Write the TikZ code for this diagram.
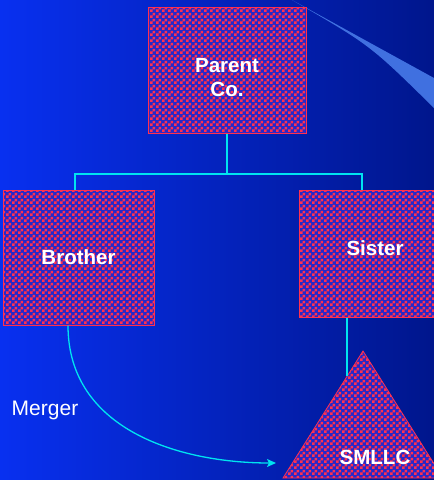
\documentclass[tikz,border=0pt]{standalone}
\usepackage{fontspec}
\setmainfont{Liberation Sans}
\usetikzlibrary{patterns,arrows.meta}

\definecolor{bgleft}{RGB}{8,48,240}
\definecolor{bgright}{RGB}{0,22,140}
\definecolor{checkred}{RGB}{255,48,80}
\definecolor{checkblue}{RGB}{40,40,200}
\definecolor{linkcyan}{RGB}{0,228,240}
\definecolor{wedgeblue}{RGB}{64,112,224}

\pgfdeclarepatternformonly{checks}{\pgfpointorigin}{\pgfqpoint{6pt}{6pt}}{\pgfqpoint{6pt}{6pt}}{%
  \pgfpathrectangle{\pgfpointorigin}{\pgfqpoint{3pt}{3pt}}%
  \pgfpathrectangle{\pgfqpoint{3pt}{3pt}}{\pgfqpoint{3pt}{3pt}}%
  \pgfusepath{fill}}

\tikzstyle{company}=[rectangle,draw=checkred,line width=1pt,fill=checkblue,
  postaction={pattern=checks,pattern color=checkred},
  text=white,font=\fontsize{20.5}{24}\selectfont\bfseries,align=center]
\tikzstyle{link}=[draw=linkcyan,line width=1.6pt]

\begin{document}
\begin{tikzpicture}[x=1pt,y=-1pt]
	\useasboundingbox (0,0) rectangle (434,480);
	\shade [left color=bgleft,right color=bgright] (0,0) rectangle (434,480);
	\fill [wedgeblue] (292,0) -- (434,78) -- (434,108) .. controls (370,45) .. (292,0);

	\node (parent) at (227,70) [company,minimum width=158pt,minimum height=126pt] {\rule{0pt}{1pt}\\[4pt]Parent\\Co.};
	\node (brother) at (78.5,257.5) [company,minimum width=151pt,minimum height=135pt] {Brother};
	\node (sister) at (375,253.5) [company,minimum width=152pt,minimum height=127pt,text depth=10pt] {Sister};

		\coordinate (apex) at (363,351);
		\coordinate (baseL) at (283,478);
		\coordinate (baseR) at (443,478);
	\filldraw [draw=checkred,line width=0.8pt,fill=checkblue,
		postaction={pattern=checks,pattern color=checkred}] (apex) -- (baseR) -- (baseL) -- cycle;
	\node (smllc) at (375,457) [text=white,font=\fontsize{20.5}{24}\selectfont\bfseries] {SMLLC};

	\node (merger) at (45,410) [text=white,font=\fontsize{21}{24}\selectfont] {Merger};

	\coordinate (bar) at (0,174);
	\draw [link] (parent.south) -- (parent.south |- bar);
	\draw [link] (brother.north -| 75,0) -- (75,174) -- (362,174) -- (sister.north -| 362,0);
	\coordinate (join) at (347,376);
	\draw [link] (sister.south -| join) -- (join);

	\coordinate (mergeEnd) at (276,463);
	\draw [draw=linkcyan,line width=1.3pt,-{Stealth[length=9pt,width=8pt,inset=2pt]}]
		(brother.south -| 68,0) .. controls (68,430) and (180,463) .. (mergeEnd);
\end{tikzpicture}
\end{document}
